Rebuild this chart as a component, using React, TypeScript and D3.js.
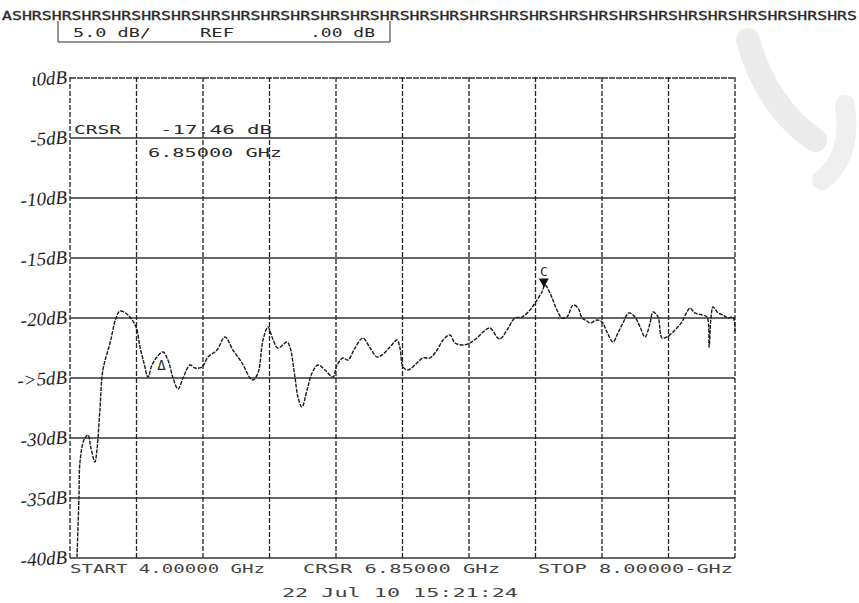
import React from "react";
import * as d3 from "d3";

const freqGHz = [4.042,4.054,4.060,4.084,4.108,4.126,4.150,4.162,4.180,4.198,4.241,4.277,4.301,4.349,4.397,4.421,4.445,4.469,4.493,4.523,4.559,4.589,4.620,4.650,4.680,4.722,4.752,4.794,4.830,4.884,4.932,4.980,5.035,5.083,5.101,5.131,5.161,5.191,5.215,5.251,5.305,5.323,5.353,5.371,5.395,5.426,5.456,5.492,5.534,5.582,5.606,5.642,5.672,5.714,5.762,5.805,5.847,5.877,5.925,5.967,5.985,6.003,6.033,6.087,6.123,6.165,6.208,6.244,6.286,6.316,6.364,6.406,6.448,6.484,6.526,6.568,6.586,6.629,6.677,6.719,6.767,6.797,6.839,6.857,6.887,6.929,6.959,6.989,7.026,7.056,7.080,7.110,7.128,7.170,7.200,7.230,7.266,7.296,7.326,7.362,7.398,7.429,7.459,7.489,7.507,7.537,7.561,7.591,7.621,7.651,7.681,7.711,7.729,7.759,7.802,7.832,7.844,7.856,7.868,7.898,7.928,7.958,7.988,8.000];
const magDB = [-39.92,-34.92,-32.0,-30.17,-29.75,-30.83,-32.0,-31.0,-27.67,-24.33,-22.08,-20.0,-19.42,-19.75,-20.75,-22.42,-23.75,-24.92,-23.92,-23.25,-22.83,-23.5,-25.0,-25.92,-25.0,-23.92,-24.17,-24.08,-23.25,-22.67,-21.58,-22.67,-23.75,-25.0,-25.17,-24.58,-21.83,-20.75,-21.58,-22.5,-22.0,-22.42,-24.92,-26.58,-27.42,-26.0,-24.58,-23.92,-24.33,-24.92,-23.92,-23.33,-23.5,-22.5,-21.67,-22.5,-23.25,-23.08,-22.42,-21.83,-22.5,-24.08,-24.33,-23.75,-23.33,-23.33,-22.67,-21.83,-21.42,-22.08,-22.25,-22.08,-21.67,-21.17,-20.83,-21.58,-21.75,-21.0,-20.0,-19.92,-19.33,-18.75,-17.83,-17.25,-17.92,-19.33,-20.0,-19.92,-18.92,-19.17,-20.0,-20.25,-20.42,-20.17,-20.33,-21.17,-22.0,-21.25,-20.42,-19.58,-19.92,-20.75,-21.58,-20.42,-19.5,-19.92,-21.67,-21.58,-21.25,-20.83,-20.33,-19.5,-19.17,-19.58,-19.75,-19.92,-22.42,-19.92,-19.08,-19.58,-19.75,-20.0,-19.92,-21.17];

const yTicks = [0, -5, -10, -15, -20, -25, -30, -35, -40];
const yTickLabels = ["ι0dB", "-5dB", "-10dB", "-15dB", "-20dB", "->5dB", "-30dB", "-35dB", "-40dB"];
const xDivisions = [4.0, 4.4, 4.8, 5.2, 5.6, 6.0, 6.4, 6.8, 7.2, 7.6, 8.0];

const headerRun = "A" + "SHR".repeat(28) + "S";
const scaleText = "5.0 dB/";
const refText = "REF";
const refValue = ".00 dB";
const cursorLabel = "CRSR";
const cursorValue = "-17.46 dB";
const cursorFreq = "6.85000 GHz";
const cursorMarker = { f: 6.85, db: -17.46, label: "C" };
const deltaMarker = { f: 4.55, db: -23.8, label: "Δ" };
const startText = "START 4.00000 GHz";
const crsrText = "CRSR 6.85000 GHz";
const stopText = "STOP 8.00000-GHz";
const dateText = "22 Jul 10  15:21:24";

export default function App() {
  const x = d3.scaleLinear().domain([4, 8]).range([70, 735]);
  const y = d3.scaleLinear().domain([0, -40]).range([78, 558]);
  const pts = freqGHz.map((f, i) => [f, magDB[i]] as [number, number]);
  const line = d3.line<[number, number]>().x(d => x(d[0])).y(d => y(d[1])).curve(d3.curveCatmullRom.alpha(0.5));
  const mono = "'DejaVu Sans Mono', 'Liberation Mono', monospace";
  const hand = "'Liberation Serif', 'DejaVu Serif', serif";
  const ink = "#2a2a2a";
  const cx = x(cursorMarker.f), cy = y(cursorMarker.db);
  const dx = x(deltaMarker.f), dy = y(deltaMarker.db);
  return (
    <svg width={859} height={603} style={{ position: "absolute", left: 0, top: 0, background: "#fff" }}>
      <rect width={859} height={603} fill="#fff" />
      {/* watermark */}
      <path d="M748,40 C760,85 785,120 815,140" fill="none" stroke="#ececec" strokeWidth={24} strokeLinecap="round" />
      <path d="M845,105 C850,140 842,165 822,180" fill="none" stroke="#efefef" strokeWidth={20} strokeLinecap="round" />
      {/* header */}
      <text x={2} y={20} fontFamily={mono} fontSize={12.5} fill={ink} stroke={ink} strokeWidth={0.3} textLength={855} lengthAdjust="spacingAndGlyphs">{headerRun}</text>
      <line x1={58} y1={21} x2={58} y2={42} stroke={ink} strokeWidth={1} />
      <line x1={390} y1={21} x2={390} y2={42} stroke={ink} strokeWidth={1} />
      <line x1={58} y1={42} x2={390} y2={42} stroke={ink} strokeWidth={1} />
      <text x={73} y={37} fontFamily={mono} fontSize={13} fill={ink} textLength={78} lengthAdjust="spacingAndGlyphs">{scaleText}</text>
      <text x={200} y={37} fontFamily={mono} fontSize={13} fill={ink} textLength={34} lengthAdjust="spacingAndGlyphs">{refText}</text>
      <text x={310} y={37} fontFamily={mono} fontSize={13} fill={ink} textLength={65} lengthAdjust="spacingAndGlyphs">{refValue}</text>
      {/* grid */}
      {yTicks.map(v => (
        <line key={"h" + v} x1={70} x2={735} y1={y(v)} y2={y(v)} stroke="#333" strokeWidth={v === 0 ? 1.6 : 1.4} strokeDasharray={v === 0 ? "6,1" : undefined} />
      ))}
      {xDivisions.map(v => (
        <line key={"v" + v} x1={x(v)} x2={x(v)} y1={y(0) - 1} y2={y(-40)} stroke="#222" strokeWidth={1.3} strokeDasharray="5,2" />
      ))}
      {/* y labels */}
      {yTicks.map((v, i) => (
        <text key={"l" + v} x={67} y={y(v) + 7} textAnchor="end" fontFamily={hand} fontStyle="italic" fontSize={19} fill="#222" transform={`rotate(-4 ${45} ${y(v)})`}>{yTickLabels[i]}</text>
      ))}
      {/* trace */}
      <path d={line(pts) || ""} fill="none" stroke="#1a1a1a" strokeWidth={1.4} strokeDasharray="4,1.2" />
      {/* cursor readout */}
      <text x={74} y={134} fontFamily={mono} fontSize={13} fill={ink} textLength={47} lengthAdjust="spacingAndGlyphs">{cursorLabel}</text>
      <text x={160} y={134} fontFamily={mono} fontSize={13} fill={ink} textLength={112} lengthAdjust="spacingAndGlyphs">{cursorValue}</text>
      <text x={148} y={157} fontFamily={mono} fontSize={13} fill={ink} textLength={134} lengthAdjust="spacingAndGlyphs">{cursorFreq}</text>
      {/* markers */}
      <text x={cx} y={cy - 12} textAnchor="middle" fontFamily={mono} fontSize={13} fill={ink}>{cursorMarker.label}</text>
      <path d={`M${cx - 5},${cy - 9} L${cx + 5},${cy - 9} L${cx},${cy} Z`} fill="#111" />
      <text x={dx} y={dy + 6} textAnchor="middle" fontFamily={mono} fontSize={14} fill={ink}>{deltaMarker.label}</text>
      {/* footer */}
      <text x={70} y={573} fontFamily={mono} fontSize={13} fill="#444" textLength={195} lengthAdjust="spacingAndGlyphs">{startText}</text>
      <text x={303} y={573} fontFamily={mono} fontSize={13} fill="#444" textLength={197} lengthAdjust="spacingAndGlyphs">{crsrText}</text>
      <text x={538} y={573} fontFamily={mono} fontSize={13} fill="#444" textLength={195} lengthAdjust="spacingAndGlyphs">{stopText}</text>
      <text x={282} y={597} fontFamily={mono} fontSize={13} fill="#444" textLength={236} lengthAdjust="spacingAndGlyphs">{dateText}</text>
    </svg>
  );
}
